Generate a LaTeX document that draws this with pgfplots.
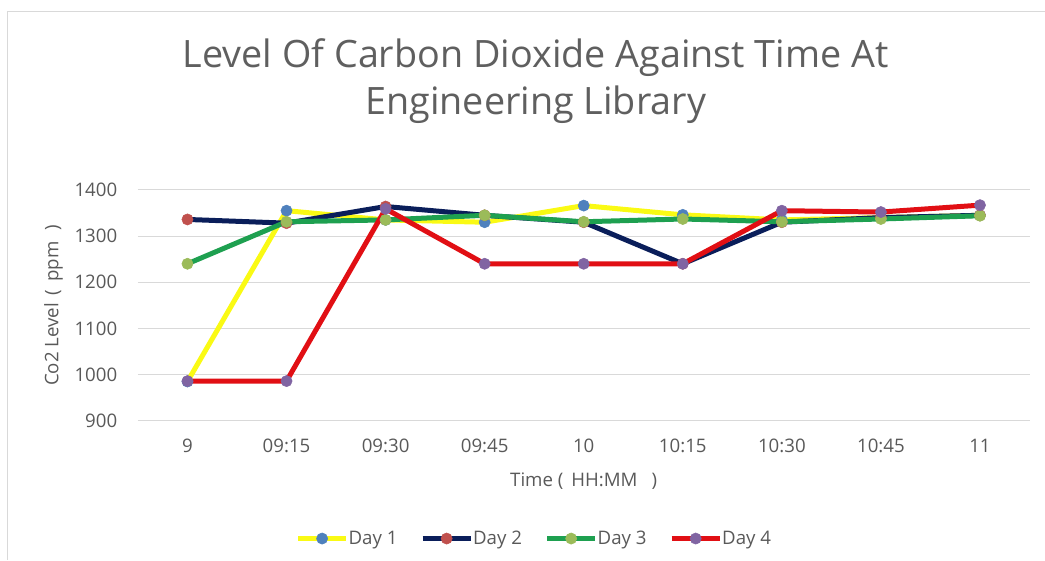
\documentclass[border=0pt]{standalone}
\usepackage{pgfplots}
\pgfplotsset{compat=1.18}
\usepackage{fontspec}
\setmainfont{Open Sans}
\definecolor{txt}{RGB}{89,89,89}
\definecolor{ttl}{RGB}{95,95,95}
\definecolor{gridc}{RGB}{217,217,217}
\definecolor{lyellow}{RGB}{250,250,20}
\definecolor{lnavy}{RGB}{10,30,90}
\definecolor{lgreen}{RGB}{30,160,80}
\definecolor{lred}{RGB}{225,15,20}
\definecolor{mblue}{RGB}{79,129,189}
\definecolor{mbrick}{RGB}{192,80,77}
\definecolor{molive}{RGB}{155,187,89}
\definecolor{mpurple}{RGB}{128,100,162}
\begin{document}
\begin{tikzpicture}[x=0.75pt,y=0.75pt]
\path (0,0) rectangle (1045,560);
\draw[gridc, line width=0.75pt] (8,0) -- (8,548) -- (1045,548);
\node[ttl, font=\fontsize{28.3}{35}\selectfont, align=center] at (536,479) {Level Of Carbon Dioxide Against Time At\\Engineering Library};
\begin{axis}[
  at={(103.5pt,104.25pt)}, anchor=south west,
  scale only axis, width=669pt, height=173.25pt,
  xmin=-0.5, xmax=8.5, ymin=900, ymax=1400,
  xtick={0,...,8},
  xticklabels={9,09:15,09:30,09:45,10,10:15,10:30,10:45,11},
  ytick={900,1000,...,1400},
  /pgf/number format/assume math mode=true,
  /pgf/number format/set thousands separator={},
  axis line style={draw=none},
  ymajorgrids, grid style={gridc, line width=0.75pt},
  major tick length=0pt,
  tick label style={txt, font=\fontsize{14}{17}\selectfont},
  yticklabel style={xshift=-12pt},
  xticklabel style={yshift=-10pt},
  xlabel={Time (\, HH:MM \enspace)}, ylabel={Co2 Level \,(\, ppm \,\,)},
  label style={txt, font=\fontsize{14}{17}\selectfont},
  xlabel style={yshift=-8pt},
  ylabel style={yshift=2pt},
  legend style={at={(0.445,-0.51)}, anchor=center, draw=none, fill=none,
    legend columns=4, font=\fontsize{14}{17}\selectfont, text=txt,
    /tikz/every even column/.append style={column sep=15pt},
    /tikz/every odd column/.append style={column sep=-2pt}},
  legend image code/.code={\draw[mark repeat=2,mark phase=2] plot coordinates {(0pt,0pt)(18pt,0pt)(36pt,0pt)};},
  every axis plot/.append style={line width=3.75pt, mark=*, mark size=4.2pt},
]
\draw[gridc, line width=0.75pt] (axis cs:-0.5,900) -- (axis cs:8.5,900);
\addplot[lyellow, mark options={line width=0.4pt, draw=mblue, fill=mblue}] coordinates {(0,985)(1,1355)(2,1335)(3,1330)(4,1366)(5,1346)(6,1335)(7,1340)(8,1345)};
\addlegendentry{Day 1}
\addplot[lnavy, mark options={line width=0.4pt, draw=mbrick, fill=mbrick}] coordinates {(0,1336)(1,1328)(2,1364)(3,1345)(4,1330)(5,1240)(6,1330)(7,1340)(8,1345)};
\addlegendentry{Day 2}
\addplot[lgreen, mark options={line width=0.4pt, draw=molive, fill=molive}] coordinates {(0,1240)(1,1331)(2,1335)(3,1345)(4,1331)(5,1337)(6,1331)(7,1337)(8,1344)};
\addlegendentry{Day 3}
\addplot[lred, mark options={line width=0.4pt, draw=mpurple, fill=mpurple}] coordinates {(0,986)(1,986)(2,1359)(3,1240)(4,1240)(5,1240)(6,1355)(7,1352)(8,1367)};
\addlegendentry{Day 4}
\end{axis}
\end{tikzpicture}
\end{document}
